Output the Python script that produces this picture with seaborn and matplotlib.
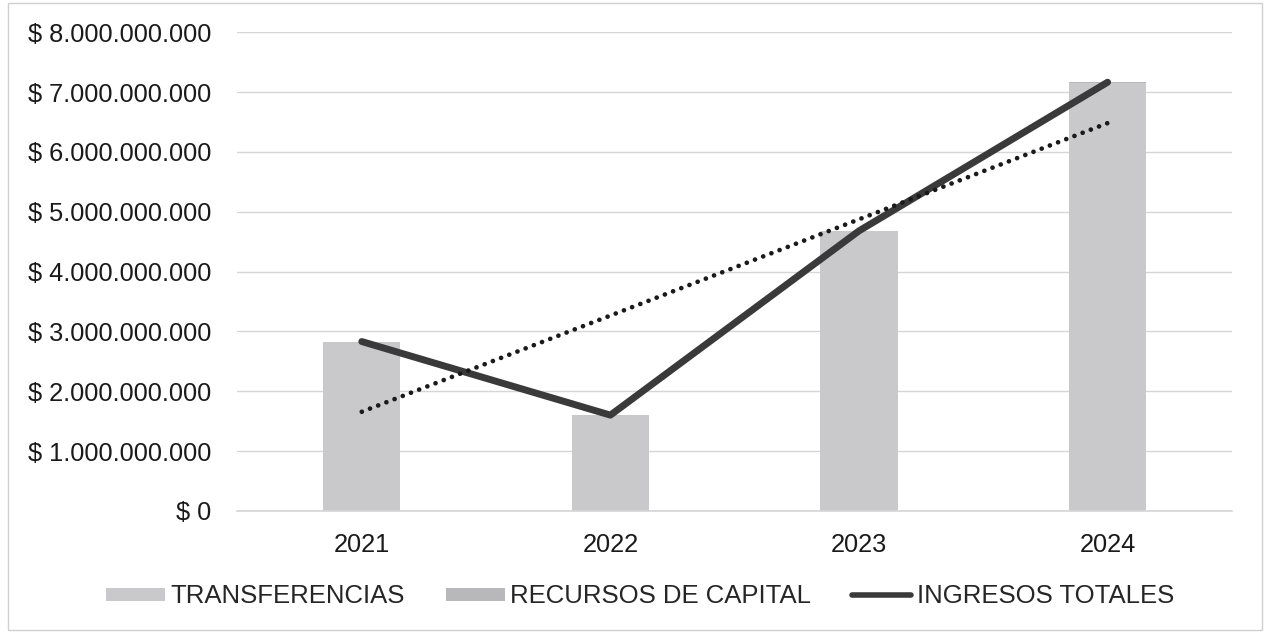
import numpy as np
import pandas as pd
import matplotlib
matplotlib.use("Agg")
import matplotlib.pyplot as plt
import seaborn as sns
from matplotlib.patches import Patch, Rectangle
from matplotlib.lines import Line2D
from matplotlib.ticker import FuncFormatter

years = ["2021", "2022", "2023", "2024"]
transferencias = [2.82e9, 1.595e9, 4.67e9, 7.155e9]
recursos_capital = [0.01e9, 0.005e9, 0.01e9, 0.01e9]
ingresos_totales = [t + r for t, r in zip(transferencias, recursos_capital)]
yticks = [0, 1e9, 2e9, 3e9, 4e9, 5e9, 6e9, 7e9, 8e9]

df = pd.DataFrame({"year": years, "trans": transferencias,
                   "rec": recursos_capital, "total": ingresos_totales})

sns.set_theme(style="white")
plt.rcParams["font.family"] = ["Liberation Sans", "DejaVu Sans"]

fig = plt.figure(figsize=(12.7, 6.33), dpi=100)
ax = fig.add_axes([0.187, 0.193, 0.783, 0.756])

c_trans = "#c9c9cc"
c_rec = "#b8b8bb"
sns.barplot(data=df, x="year", y="total", color=c_rec, saturation=1,
            width=0.31, ax=ax, linewidth=0)
sns.barplot(data=df, x="year", y="trans", color=c_trans, saturation=1,
            width=0.31, ax=ax, linewidth=0)

xpos = np.arange(len(years))
sns.lineplot(x=xpos, y=ingresos_totales, color="#3a3a3a", linewidth=5,
             ax=ax, solid_capstyle="round", solid_joinstyle="round")
coef = np.polyfit(xpos, ingresos_totales, 1)
trend = np.polyval(coef, xpos)
ax.plot(xpos, trend, color="#1a1a1a", linewidth=3.4, linestyle=(0, (0.01, 1.85)),
        dash_capstyle="round")

ax.set_ylim(0, 8e9)
ax.set_xlim(-0.5, 3.5)
ax.set_yticks(yticks)
ax.yaxis.set_major_formatter(FuncFormatter(
    lambda v, p: "$ " + f"{int(round(v)):,}".replace(",", ".")))
ax.grid(axis="y", color="#d6d6d6", linewidth=1)
ax.set_axisbelow(True)
for s in ["top", "right", "left"]:
    ax.spines[s].set_visible(False)
ax.spines["bottom"].set_color("#d6d6d6")
ax.set_xlabel("")
ax.set_ylabel("")
ax.tick_params(axis="y", labelsize=18.3, colors="#1a1a1a", length=0, pad=19)
ax.tick_params(axis="x", labelsize=18.3, colors="#1a1a1a", length=0, pad=16)

handles = [Patch(facecolor=c_trans, edgecolor="none"),
           Patch(facecolor=c_rec, edgecolor="none"),
           Line2D([0], [0], color="#3a3a3a", linewidth=4)]
labels = ["TRANSFERENCIAS", "RECURSOS DE CAPITAL", "INGRESOS TOTALES"]
fig.legend(handles, labels, loc="center", bbox_to_anchor=(0.504, 0.058),
           ncol=3, frameon=False, fontsize=18.5, handlelength=2.3,
           handleheight=0.4, handletextpad=0.2, columnspacing=1.6)

fig.patches.append(Rectangle((0.006, 0.005), 0.988, 0.99, transform=fig.transFigure,
                             fill=False, edgecolor="#d0d0d0", linewidth=1))

fig.savefig("out.png", dpi=100)
